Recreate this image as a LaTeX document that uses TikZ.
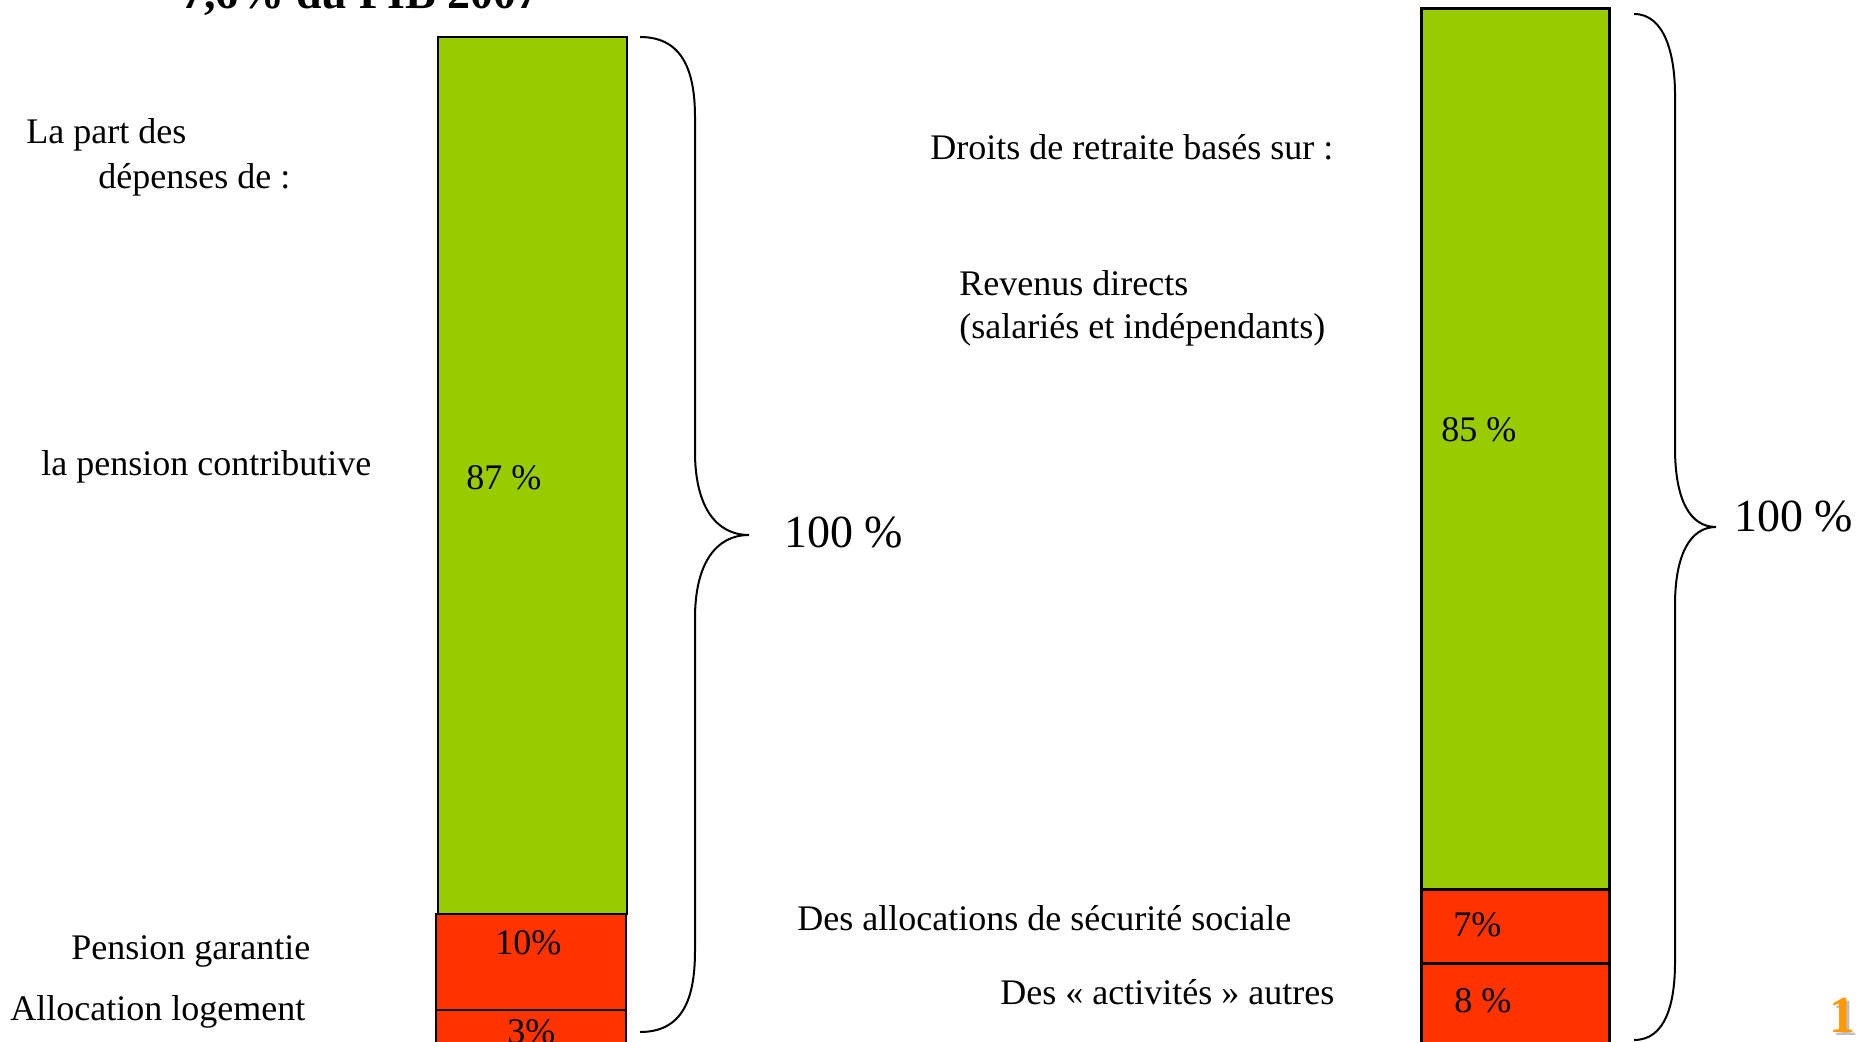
\documentclass[tikz,border=0pt]{standalone}
\usepackage{fontspec}
\setmainfont{Liberation Serif}
\definecolor{barGreen}{HTML}{99CC00}
\definecolor{barRed}{HTML}{FF3300}
\definecolor{pageOrange}{HTML}{FF9900}
\begin{document}
\begin{tikzpicture}[x=0.5pt,y=-0.5pt,
  lbl/.style={anchor=base west, inner sep=0pt, font=\fontsize{18}{22}\selectfont},
  big/.style={anchor=base west, inner sep=0pt, font=\fontsize{23}{28}\selectfont},
  segl/.style={draw=black, line width=1pt},
  segr/.style={draw=black, line width=1.5pt},
  bracestyle/.style={draw=black, line width=1pt}]
\useasboundingbox (0,0) rectangle (1856,1042);
\clip (0,0) rectangle (1856,1042);

% title (cut off at top)
\node[anchor=base west, inner sep=0pt, font=\bfseries\fontsize{23}{28}\selectfont] (title) at (181,9) {7,6\% du PIB 2007};

% left bar
\draw[segl, fill=barGreen] (438,37) rectangle (627,914);
\draw[segl, fill=barRed] (436,914) rectangle (626,1010);
\draw[segl, fill=barRed] (436,1010) rectangle (626,1070);

% right bar
\draw[segr, fill=barGreen] (1421,9) rectangle (1609,889);
\draw[segr, fill=barRed] (1421,889) rectangle (1609,963);
\draw[segr, fill=barRed] (1421,963) rectangle (1609,1070);

% left brace
\coordinate (lbTop) at (640,37);
\coordinate (lbTip) at (749,535);
\coordinate (lbBot) at (640,1032);
\draw[bracestyle] (lbTop) .. controls (685,37) and (695,75) .. (695,118)
  -- (695,452) .. controls (695,505) and (715,535) .. (lbTip)
  .. controls (715,535) and (695,565) .. (695,618)
  -- (695,950) .. controls (695,995) and (685,1032) .. (lbBot);

% right brace
\coordinate (rbTop) at (1634,14);
\coordinate (rbTip) at (1716,527);
\coordinate (rbBot) at (1634,1040);
\draw[bracestyle] (rbTop) .. controls (1665,14) and (1675,55) .. (1675,95)
  -- (1675,448) .. controls (1675,500) and (1690,527) .. (rbTip)
  .. controls (1690,527) and (1675,555) .. (1675,605)
  -- (1675,962) .. controls (1675,1005) and (1665,1040) .. (rbBot);

% 100 % labels
\node[big] (lc) at (784,547) {100 \%};
\node[big] (rc) at (1734,531) {100 \%};

% left texts
\node[lbl] (t1) at (26,144) {La part des};
\node[lbl] (t2) at (98,189) {dépenses de :};
\node[lbl] (t3) at (41,476) {la pension contributive};
\node[lbl] (t4) at (71,959) {Pension garantie};
\node[lbl] (t5) at (10,1020) {Allocation logement};

% left bar values
\node[lbl] (v1) at (466,489) {87 \%};
\node[lbl] (v2) at (495,954) {10\%};
\node[lbl] (v3) at (507,1043) {3\%};

% right texts
\node[lbl] (r1) at (930,160) {Droits de retraite basés sur :};
\node[lbl] (r2) at (959,296) {Revenus directs};
\node[lbl] (r3) at (959,339) {(salariés et indépendants)};
\node[lbl] (r4) at (797,930) {Des allocations de sécurité sociale};
\node[lbl] (r5) at (1000,1004) {Des « activités » autres};

% right bar values
\node[lbl] (w1) at (1441,442) {85 \%};
\node[lbl] (w2) at (1453,936) {7\%};
\node[lbl] (w3) at (1454,1012) {8 \%};

% page number (cut off)
\node[anchor=base west, inner sep=0pt, text=gray!50, font=\bfseries\fontsize{26}{30}\selectfont] at (1832,1035) {11};
\node[anchor=base west, inner sep=0pt, text=pageOrange, font=\bfseries\fontsize{26}{30}\selectfont] (pg) at (1829,1032) {11};
\end{tikzpicture}
\end{document}
